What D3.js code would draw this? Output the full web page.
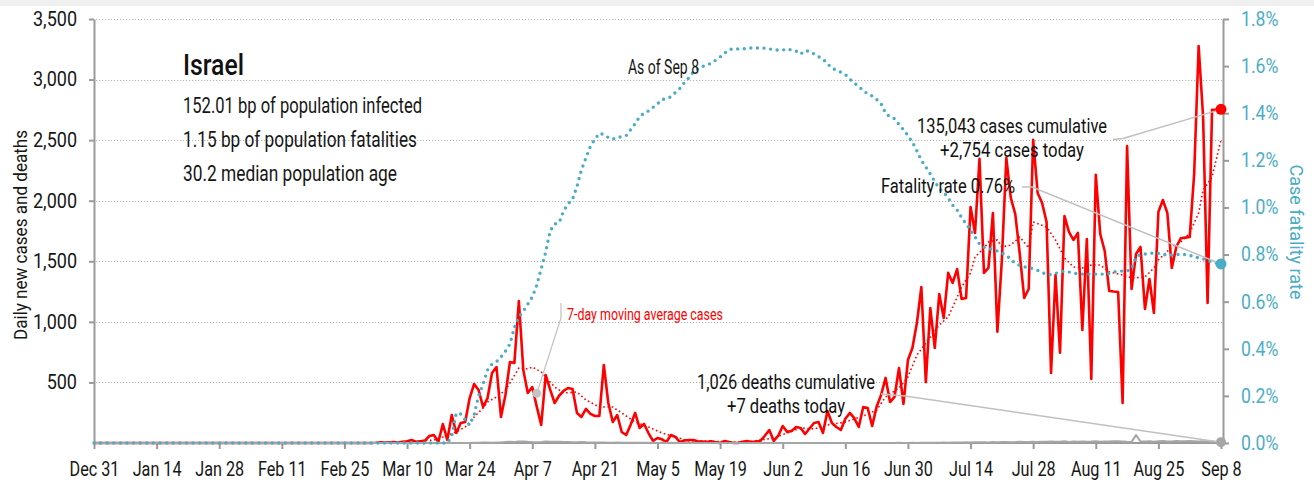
<!DOCTYPE html>
<html>
<head>
<meta charset="utf-8">
<script src="https://cdn.jsdelivr.net/npm/d3@7"></script>
<style>
  body { margin: 0; background: #fff; }
  svg { display: block; font-family: Roboto, "Liberation Sans", sans-serif; }
</style>
</head>
<body>
<svg id="chart" width="1314" height="485"></svg>
<script>
// ---- data -------------------------------------------------------------
const startDay = "2019-12-31";

// daily new cases, one value per day from Dec 31
const dailyCases = [
  0,0,0,0,0,0,0,0,0,0, 0,0,0,0,0,0,0,0,0,0, 0,0,0,0,0,0,0,0,0,0,
  0,0,0,0,0,0,0,0,0,0, 0,0,0,0,0,0,0,0,0,0, 0,0,0,0,0,0,0,0,0,0, 0,
  0,0,2,5,3, 5,8,3,10,
  15,25,10,15,20,58,66,8,157,25,
  231,83,165,173,371,487,437,297,371,578,
  627,215,396,668,660,1172,600,413,462,300,
  149,561,440,330,390,430,454,446,248,215,
  281,240,223,223,644,330,173,231,91,66,
  150,248,124,157,80,17,41,30,8,66,
  50,8,20,25,25,15,12,8,15,5,
  0,17,8,0,0,10,17,8,12,17,
  60,107,17,60,140,91,100,132,124,74,
  120,165,173,83,264,165,132,107,200,248,
  206,132,297,289,140,300,396,537,338,380,
  619,322,685,784,990,1288,503,1114,784,1230,
  1032,1404,1321,1436,1189,1197,1948,1734,2345,1404,
  1445,1899,919,1511,2353,2023,1890,1560,1197,1271,
  2502,2064,1981,1824,578,1387,745,1874,1742,1676,
  1734,933,1684,528,2213,1725,1585,1255,1250,1247,
  330,2452,1271,1560,1618,1106,1354,1073,1907,2006,
  1899,1445,1618,1690,1695,1700,2221,3277,2691,1156,
  2750,2750,2754
];

// daily deaths, one value per day from Dec 31
const dailyDeaths = [
  0,0,0,0,0,0,0,0,0,0, 0,0,0,0,0,0,0,0,0,0, 0,0,0,0,0,0,0,0,0,0,
  0,0,0,0,0,0,0,0,0,0, 0,0,0,0,0,0,0,0,0,0, 0,0,0,0,0,0,0,0,0,0,
  0,0,0,0,0,0,0,0,0,0, 0,0,0,0,0,0,0,0,0,0,
  1,0,0,1,1,2,3,4,5,3,4,
  5,8,10,9,12,13,10,8,7,9,12,10,11,10,9,8,7,6,8,6,5,5,4,4,3,3,4,3,2,3,2,
  2,3,2,2,1,2,1,2,1,1,1,1,1,1,0,1,0,1,0,0,1,0,0,1,0,0,1,0,0,1,0,
  0,1,0,0,1,0,1,0,0,1,0,1,0,1,0,0,1,0,1,0,1,1,0,1,1,0,1,2,1,1,
  2,1,2,3,2,3,2,4,3,4,5,5,6,4,6,6,7,5,8,7,8,9,7,8,10,9,8,10,9,11,10,
  12,10,11,14,9,12,10,13,11,12,14,10,13,12,15,14,13,10,9,65,12,13,14,11,15,16,13,12,17,14,15,
  16,14,12,15,10,13,9,7
];

// case fatality rate in percent, one value per day from Dec 31
const fatalityRate = [
  0,0,0,0,0,0,0,0,0,0, 0,0,0,0,0,0,0,0,0,0, 0,0,0,0,0,0,0,0,0,0,
  0,0,0,0,0,0,0,0,0,0, 0,0,0,0,0,0,0,0,0,0, 0,0,0,0,0,0,0,0,0,0,
  0,0,0,0,0,0,0,0,0,0, 0,0,0,0,0,0,0,0,0,0,
  0.03,0.127,0.123,0.098,0.076,0.12,0.2,0.25,0.31,0.335,
  0.345,0.365,0.39,0.42,0.49,0.535,0.56,0.59,0.62,0.67,
  0.74,0.81,0.9,0.93,0.935,0.985,1.015,1.035,1.09,1.16,
  1.21,1.26,1.29,1.315,1.31,1.297,1.29,1.298,1.3,1.305,
  1.33,1.355,1.385,1.4,1.41,1.425,1.44,1.458,1.462,1.47,
  1.488,1.505,1.53,1.55,1.575,1.588,1.598,1.605,1.612,1.625,
  1.639,1.655,1.67,1.673,1.673,1.673,1.675,1.677,1.677,1.677,
  1.676,1.673,1.67,1.668,1.668,1.673,1.668,1.664,1.651,1.666,
  1.662,1.652,1.64,1.63,1.61,1.592,1.582,1.574,1.564,1.545,
  1.528,1.514,1.496,1.482,1.473,1.458,1.44,1.4,1.384,1.377,
  1.352,1.33,1.305,1.277,1.24,1.2,1.172,1.142,1.11,1.08,
  1.065,1.04,1.01,0.989,0.957,0.93,0.905,0.875,0.845,0.831,
  0.826,0.821,0.815,0.807,0.797,0.78,0.762,0.754,0.748,0.745,
  0.74,0.733,0.724,0.715,0.715,0.72,0.726,0.73,0.726,0.721,
  0.718,0.717,0.717,0.717,0.717,0.717,0.717,0.72,0.726,0.729,
  0.73,0.73,0.74,0.79,0.8,0.802,0.804,0.807,0.805,0.8,
  0.798,0.798,0.799,0.802,0.8,0.797,0.791,0.786,0.782,0.773,
  0.769,0.764,0.76
];

// 7-day moving average of cases
const avgDates = [
  "2019-12-31","2020-03-05","2020-03-10","2020-03-16","2020-03-18","2020-03-21","2020-03-23",
  "2020-03-25","2020-03-27","2020-03-28","2020-03-30","2020-04-01","2020-04-02","2020-04-04",
  "2020-04-06","2020-04-07","2020-04-09","2020-04-12","2020-04-14","2020-04-17","2020-04-19",
  "2020-04-22","2020-04-25","2020-04-27","2020-04-30","2020-05-03","2020-05-06","2020-05-09",
  "2020-05-12","2020-05-16","2020-05-21","2020-05-25","2020-05-28","2020-05-31","2020-06-03",
  "2020-06-06","2020-06-09","2020-06-12","2020-06-16","2020-06-20","2020-06-23","2020-06-25",
  "2020-06-28","2020-06-30","2020-07-02","2020-07-05","2020-07-07","2020-07-09","2020-07-11",
  "2020-07-12","2020-07-14","2020-07-15","2020-07-17","2020-07-18","2020-07-20","2020-07-21",
  "2020-07-23","2020-07-25","2020-07-27","2020-07-28","2020-07-31","2020-08-02","2020-08-04",
  "2020-08-06","2020-08-08","2020-08-10","2020-08-12","2020-08-14","2020-08-17","2020-08-19",
  "2020-08-22","2020-08-24","2020-08-25","2020-08-28","2020-08-30","2020-09-01","2020-09-03",
  "2020-09-04","2020-09-06","2020-09-08"
];
const avgCases = [
  0,0,5,25,50,91,132,
  215,289,338,380,437,495,619,
  611,627,586,462,413,421,355,
  297,297,248,173,132,83,50,
  17,17,8,8,25,41,83,
  124,116,149,173,223,272,380,
  454,545,726,875,974,1040,1205,
  1288,1403,1535,1610,1659,1676,1618,
  1634,1700,1610,1824,1783,1676,1527,
  1453,1445,1469,1469,1412,1387,1362,
  1370,1445,1511,1618,1659,1734,1899,
  2088,2196,2501
];

const xTickDates = [
  "2019-12-31","2020-01-14","2020-01-28","2020-02-11","2020-02-25","2020-03-10","2020-03-24",
  "2020-04-07","2020-04-21","2020-05-05","2020-05-19","2020-06-02","2020-06-16","2020-06-30",
  "2020-07-14","2020-07-28","2020-08-11","2020-08-25","2020-09-08"
];
const leftTicks = [500, 1000, 1500, 2000, 2500, 3000, 3500];
const rightTicks = [0, 0.2, 0.4, 0.6, 0.8, 1.0, 1.2, 1.4, 1.6, 1.8];

const countryName = "Israel";
const countryFacts = [
  "152.01 bp of population infected",
  "1.15 bp of population fatalities",
  "30.2 median population age"
];
const cumulativeCases = 135043;
const cumulativeDeaths = 1026;
const currentRate = 0.76;
const avgNoteDate = "2020-04-08";
const avgNoteValue = 410;

// ---- layout ----------------------------------------------------------
const W = 1314, H = 485;
const plotLeft = 94, plotRight = 1221, axisRightX = 1223, plotTop = 19, plotBottom = 443;
const RED = "#ff0000", BLUE = "#4bacc6", GREY = "#a6a6a6", LEADER = "#c0c0c0", INK = "#161616";

const parse = d3.timeParse("%Y-%m-%d");
const t0 = parse(startDay);
const days = dailyCases.map((_, i) => d3.timeDay.offset(t0, i));
const lastDay = days[days.length - 1];
const last = days.length - 1;

const x = d3.scaleTime().domain([t0, lastDay]).range([plotLeft, plotRight]);
const y = d3.scaleLinear().domain([0, 3500]).range([plotBottom, plotTop]);
const yR = d3.scaleLinear().domain([0, 1.8]).range([plotBottom, plotTop]);

const svg = d3.select("#chart");

// condensed look: squeeze glyphs horizontally to a given width or ratio
function fit(sel, w) {
  sel.attr("textLength", w).attr("lengthAdjust", "spacingAndGlyphs");
}
function squeeze(sel, r) {
  sel.each(function () {
    const n = this.getComputedTextLength();
    d3.select(this).attr("textLength", n * r).attr("lengthAdjust", "spacingAndGlyphs");
  });
}

svg.append("rect").attr("x", 0).attr("y", 0).attr("width", W).attr("height", 6).attr("fill", "#f0f0f0");

// dotted horizontal gridlines
svg.append("g").selectAll("line").data(leftTicks).join("line")
  .attr("x1", plotLeft + 2).attr("x2", axisRightX)
  .attr("y1", d => Math.round(y(d)) + 0.5).attr("y2", d => Math.round(y(d)) + 0.5)
  .attr("stroke", "#b3b3b3").attr("stroke-width", 1).attr("stroke-dasharray", "1.2,1.8");

function styleAxis(g, color, ratio) {
  g.select(".domain").attr("stroke", "#9a9a9a").attr("stroke-width", 2);
  g.selectAll(".tick line").attr("stroke", "#9a9a9a").attr("stroke-width", 2);
  g.selectAll(".tick text").attr("fill", color).attr("font-size", 20)
    .attr("font-family", "Roboto, sans-serif").call(squeeze, ratio);
}

// left axis
const gLeft = svg.append("g").attr("transform", `translate(${plotLeft},0)`)
  .call(d3.axisLeft(y).tickValues(leftTicks).tickSize(5).tickSizeOuter(0).tickPadding(12)
    .tickFormat(d3.format(",")));
styleAxis(gLeft, INK, 0.9);

// right axis
const gRight = svg.append("g").attr("transform", `translate(${axisRightX},0)`)
  .call(d3.axisRight(yR).tickValues(rightTicks).tickSize(6).tickSizeOuter(0).tickPadding(12)
    .tickFormat(d => d.toFixed(1) + "%"));
styleAxis(gRight, BLUE, 0.88);

// bottom axis
const gBottom = svg.append("g").attr("transform", `translate(0,${plotBottom})`)
  .call(d3.axisBottom(x).tickValues(xTickDates.map(parse)).tickSize(6).tickSizeOuter(0).tickPadding(13)
    .tickFormat(d3.timeFormat("%b %-d")));
styleAxis(gBottom, INK, 0.81);
gBottom.select(".domain").attr("d", `M${plotLeft},0H${axisRightX}`);

// axis titles
svg.append("text")
  .attr("transform", `translate(27,235) rotate(-90)`)
  .attr("text-anchor", "middle").attr("font-size", 19).attr("fill", INK)
  .text("Daily new cases and deaths").call(fit, 210);
svg.append("text")
  .attr("transform", `translate(1290,232) rotate(90)`)
  .attr("text-anchor", "middle").attr("font-size", 19).attr("fill", BLUE)
  .text("Case fatality rate").call(fit, 135);

// series
const avgLine = d3.line().x((d, i) => x(parse(avgDates[i]))).y(d => y(d));
svg.append("path").attr("d", avgLine(avgCases))
  .attr("fill", "none").attr("stroke", RED).attr("stroke-width", 1.6)
  .attr("stroke-dasharray", "1.6,2.6");

const dailyLine = d3.line().x((d, i) => x(days[i])).y(d => y(d));
svg.append("path").attr("d", dailyLine(dailyCases))
  .attr("fill", "none").attr("stroke", RED).attr("stroke-width", 2.6)
  .attr("stroke-linejoin", "round");

svg.append("path").attr("d", dailyLine(dailyDeaths))
  .attr("fill", "none").attr("stroke", GREY).attr("stroke-width", 2)
  .attr("stroke-linejoin", "round");

const rateLine = d3.line().x((d, i) => x(days[i])).y(d => yR(d));
svg.append("path").attr("d", rateLine(fatalityRate))
  .attr("fill", "none").attr("stroke", BLUE).attr("stroke-width", 3.4)
  .attr("stroke-linecap", "round").attr("stroke-dasharray", "0,6.6");

// title block
svg.append("text").attr("x", 183).attr("y", 75).attr("font-size", 29).attr("font-weight", 500)
  .attr("fill", "#111").text(countryName).call(fit, 61);
const factWidths = [239, 234, 214];
svg.append("g").selectAll("text").data(countryFacts).join("text")
  .attr("x", 183).attr("y", (d, i) => 113 + i * 34).attr("font-size", 22).attr("fill", INK)
  .text(d => d)
  .each(function (d, i) { d3.select(this).call(fit, factWidths[i]); });

svg.append("text").attr("x", 628).attr("y", 74).attr("font-size", 19.5).attr("fill", INK)
  .text("As of " + d3.timeFormat("%b %-d")(lastDay)).call(fit, 71);

// note on the moving average
const ax = x(parse(avgNoteDate)), ay = y(avgNoteValue);
svg.append("path").attr("d", `M561,303V318L${ax},${ay}`)
  .attr("fill", "none").attr("stroke", LEADER).attr("stroke-width", 1.2);
svg.append("circle").attr("cx", ax).attr("cy", ay).attr("r", 4.5).attr("fill", "#c4c4c4");
svg.append("text").attr("x", 567).attr("y", 320).attr("font-size", 16.5).attr("fill", RED)
  .text("7-day moving average cases").call(fit, 156);

// end-of-series notes
const ex = x(lastDay);
const fmt = d3.format(",");
const caseY = y(dailyCases[last]), rateY = yR(fatalityRate[last]), deathY = y(dailyDeaths[last]);

svg.append("path").attr("d", `M1113,139.5L1123,138.5L${ex},${caseY}`)
  .attr("fill", "none").attr("stroke", LEADER).attr("stroke-width", 1.5);
svg.append("path").attr("d", `M1022,187L1032,187L${ex},${rateY}`)
  .attr("fill", "none").attr("stroke", LEADER).attr("stroke-width", 1.5);
svg.append("path").attr("d", `M881,394L905,396L${ex},${deathY}`)
  .attr("fill", "none").attr("stroke", LEADER).attr("stroke-width", 1.5);

svg.append("circle").attr("cx", ex).attr("cy", caseY).attr("r", 5.5).attr("fill", RED);
svg.append("circle").attr("cx", ex).attr("cy", rateY).attr("r", 5.5).attr("fill", BLUE);
svg.append("circle").attr("cx", ex).attr("cy", deathY).attr("r", 5).attr("fill", GREY);

const noteText = (tx, ty, s, w, anchor) => svg.append("text").attr("x", tx).attr("y", ty)
  .attr("font-size", 19.5).attr("fill", "#111").attr("text-anchor", anchor || "start")
  .text(s).call(fit, w);
noteText(1012, 133, fmt(cumulativeCases) + " cases cumulative", 190, "middle");
noteText(1012, 157, "+" + fmt(dailyCases[last]) + " cases today", 144, "middle");
noteText(881, 193, "Fatality rate " + currentRate.toFixed(2) + "%", 134);
noteText(786, 389, fmt(cumulativeDeaths) + " deaths cumulative", 178, "middle");
noteText(786, 413, "+" + fmt(dailyDeaths[last]) + " deaths today", 118, "middle");
</script>
</body>
</html>
